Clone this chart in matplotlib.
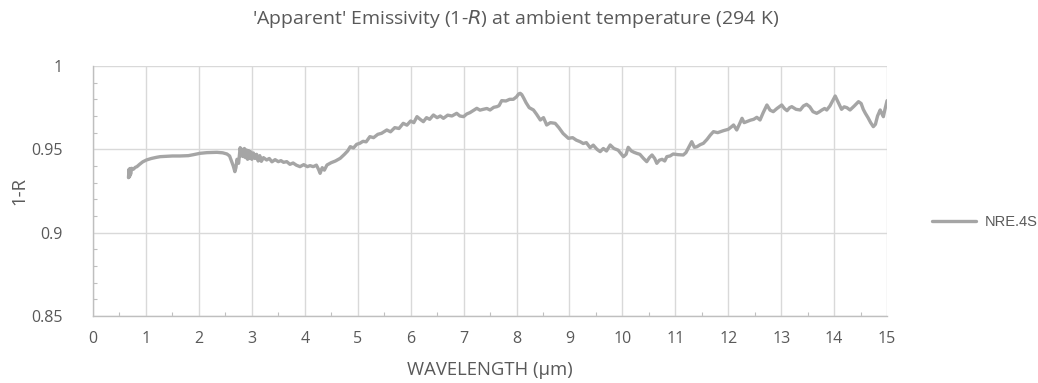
import matplotlib
matplotlib.use('Agg')
import matplotlib.pyplot as plt
from matplotlib.ticker import MultipleLocator

# wavelength (um) and 1-R values, ten per row
wavelength = [
    0.67, 0.68, 0.69, 0.70, 0.71, 0.73, 0.76, 0.80, 0.83, 0.88,
    0.94, 1.01, 1.10, 1.20, 1.27, 1.40, 1.50, 1.64, 1.80, 1.90,
    2.02, 2.15, 2.25, 2.34, 2.45, 2.53, 2.58, 2.62, 2.65, 2.68,
    2.70, 2.72, 2.75, 2.78, 2.80, 2.82, 2.84, 2.86, 2.88, 2.90,
    2.92, 2.94, 2.96, 2.98, 3.00, 3.03, 3.06, 3.09, 3.12, 3.15,
    3.18, 3.22, 3.28, 3.33, 3.38, 3.44, 3.50, 3.55, 3.60, 3.66,
    3.72, 3.78, 3.84, 3.91, 3.98, 4.05, 4.10, 4.16, 4.22, 4.26,
    4.29, 4.33, 4.37, 4.42, 4.50, 4.58, 4.67, 4.75, 4.81, 4.86,
    4.92, 4.98, 5.04, 5.10, 5.16, 5.23, 5.30, 5.38, 5.45, 5.55,
    5.62, 5.70, 5.78, 5.86, 5.93, 6.00, 6.06, 6.12, 6.18, 6.24,
    6.30, 6.36, 6.43, 6.50, 6.56, 6.62, 6.70, 6.78, 6.87, 6.93,
    7.00, 7.06, 7.12, 7.18, 7.25, 7.31, 7.37, 7.44, 7.50, 7.57,
    7.63, 7.67, 7.72, 7.80, 7.87, 7.94, 8.00, 8.04, 8.07, 8.10,
    8.14, 8.18, 8.24, 8.32, 8.38, 8.45, 8.51, 8.57, 8.64, 8.73,
    8.80, 8.88, 8.98, 9.06, 9.13, 9.20, 9.26, 9.32, 9.39, 9.45,
    9.52, 9.58, 9.64, 9.70, 9.77, 9.84, 9.92, 10.02, 10.07, 10.11,
    10.17, 10.22, 10.27, 10.33, 10.40, 10.46, 10.51, 10.56, 10.61, 10.65,
    10.70, 10.75, 10.80, 10.84, 10.90, 10.96, 11.05, 11.15, 11.20, 11.25,
    11.31, 11.36, 11.41, 11.47, 11.53, 11.60, 11.66, 11.72, 11.80, 11.91,
    12.00, 12.06, 12.10, 12.16, 12.21, 12.26, 12.30, 12.35, 12.42, 12.48,
    12.54, 12.60, 12.66, 12.73, 12.79, 12.85, 12.92, 13.01, 13.06, 13.11,
    13.16, 13.20, 13.28, 13.36, 13.42, 13.48, 13.54, 13.60, 13.67, 13.72,
    13.77, 13.82, 13.86, 13.92, 13.97, 14.02, 14.08, 14.14, 14.19, 14.24,
    14.30, 14.38, 14.46, 14.51, 14.55, 14.59, 14.64, 14.69, 14.74, 14.78,
    14.82, 14.87, 14.90, 14.93, 14.96, 15.00,
]
emissivity = [
    0.9330, 0.9380, 0.9335, 0.9385, 0.9350, 0.9386, 0.9380, 0.9392, 0.9396, 0.9410,
    0.9425, 0.9436, 0.9445, 0.9452, 0.9456, 0.9458, 0.9460, 0.9460, 0.9462, 0.9468,
    0.9476, 0.9480, 0.9481, 0.9482, 0.9479, 0.9472, 0.9460, 0.9426, 0.9400, 0.9366,
    0.9390, 0.9440, 0.9416, 0.9510, 0.9460, 0.9500, 0.9456, 0.9505, 0.9450, 0.9496,
    0.9440, 0.9492, 0.9445, 0.9485, 0.9440, 0.9478, 0.9445, 0.9470, 0.9430, 0.9462,
    0.9428, 0.9450, 0.9436, 0.9445, 0.9425, 0.9438, 0.9426, 0.9432, 0.9422, 0.9426,
    0.9410, 0.9418, 0.9405, 0.9396, 0.9408, 0.9396, 0.9402, 0.9396, 0.9405, 0.9380,
    0.9356, 0.9390, 0.9375, 0.9406, 0.9420, 0.9430, 0.9446, 0.9470, 0.9490, 0.9516,
    0.9508, 0.9530, 0.9536, 0.9548, 0.9545, 0.9576, 0.9570, 0.9590, 0.9596, 0.9616,
    0.9605, 0.9630, 0.9625, 0.9656, 0.9645, 0.9670, 0.9660, 0.9696, 0.9680, 0.9666,
    0.9690, 0.9680, 0.9706, 0.9690, 0.9700, 0.9686, 0.9705, 0.9700, 0.9716, 0.9700,
    0.9696, 0.9712, 0.9720, 0.9732, 0.9746, 0.9735, 0.9740, 0.9745, 0.9736, 0.9752,
    0.9756, 0.9762, 0.9792, 0.9790, 0.9800, 0.9800, 0.9815, 0.9832, 0.9836, 0.9828,
    0.9805, 0.9780, 0.9750, 0.9736, 0.9710, 0.9676, 0.9690, 0.9646, 0.9660, 0.9656,
    0.9630, 0.9595, 0.9566, 0.9570, 0.9555, 0.9546, 0.9535, 0.9540, 0.9510, 0.9525,
    0.9500, 0.9486, 0.9505, 0.9490, 0.9526, 0.9505, 0.9495, 0.9456, 0.9470, 0.9512,
    0.9490, 0.9482, 0.9476, 0.9470, 0.9445, 0.9426, 0.9450, 0.9466, 0.9445, 0.9416,
    0.9435, 0.9440, 0.9430, 0.9456, 0.9460, 0.9472, 0.9468, 0.9466, 0.9480, 0.9510,
    0.9546, 0.9512, 0.9516, 0.9528, 0.9536, 0.9560, 0.9585, 0.9606, 0.9600, 0.9612,
    0.9620, 0.9635, 0.9646, 0.9616, 0.9650, 0.9686, 0.9660, 0.9666, 0.9675, 0.9680,
    0.9692, 0.9676, 0.9720, 0.9766, 0.9735, 0.9726, 0.9745, 0.9766, 0.9745, 0.9732,
    0.9750, 0.9756, 0.9740, 0.9736, 0.9760, 0.9770, 0.9755, 0.9726, 0.9716, 0.9725,
    0.9736, 0.9745, 0.9736, 0.9760, 0.9790, 0.9820, 0.9780, 0.9740, 0.9755, 0.9750,
    0.9736, 0.9760, 0.9786, 0.9775, 0.9740, 0.9716, 0.9690, 0.9660, 0.9636, 0.9650,
    0.9700, 0.9736, 0.9715, 0.9696, 0.9740, 0.9792,
]

series_name = 'NRE.4S'
x_ticks = list(range(0, 16))
y_ticks = [0.85, 0.9, 0.95, 1.0]
y_tick_labels = ['0.85', '0.9', '0.95', '1']

LINE_COLOR = '#A5A5A5'
GRID_COLOR = '#D9D9D9'
TEXT_COLOR = '#595959'

plt.rcParams['font.family'] = ['Open Sans', 'DejaVu Sans']

fig = plt.figure(figsize=(10.38, 3.83), dpi=100)
ax = fig.add_axes([0.0896, 0.175, 0.765, 0.6527])

line, = ax.plot(wavelength, emissivity, color=LINE_COLOR, lw=2.4, label=series_name,
                solid_joinstyle='round', solid_capstyle='round')

ax.set_xlim(0, 15)
ax.set_ylim(0.85, 1.0)
ax.set_xticks(x_ticks)
ax.set_yticks(y_ticks)
ax.set_yticklabels(y_tick_labels)
ax.xaxis.set_minor_locator(MultipleLocator(0.5))
ax.yaxis.set_minor_locator(MultipleLocator(0.01))

ax.grid(True, which='major', color=GRID_COLOR, lw=1.0)
ax.set_axisbelow(True)
for side in ['top', 'right']:
    ax.spines[side].set_visible(False)
for side in ['left', 'bottom']:
    ax.spines[side].set_color('#BFBFBF')
    ax.spines[side].set_linewidth(1.0)

ax.tick_params(which='major', length=0, labelsize=11.5, labelcolor=TEXT_COLOR, pad=11)
ax.tick_params(axis='y', which='major', pad=22)
ax.tick_params(which='minor', direction='in', length=3, color='#BFBFBF', width=0.8)

ax.set_xlabel('WAVELENGTH (µm)', fontsize=13.3, color=TEXT_COLOR, labelpad=10)
ax.set_ylabel('1-R', fontsize=13.3, color=TEXT_COLOR, labelpad=2)
fig.suptitle("'Apparent' Emissivity (1-$\\mathit{R}$) at ambient temperature (294 K)",
             x=0.497, y=0.978, fontsize=14, color=TEXT_COLOR)

fig.legend(handles=[line], loc='center left', bbox_to_anchor=(0.885, 0.42), frameon=False,
           handlelength=3.0, handletextpad=0.6,
           prop={'family': 'Liberation Sans', 'size': 10.5}, labelcolor=TEXT_COLOR)

fig.savefig('out.png', dpi=100)
